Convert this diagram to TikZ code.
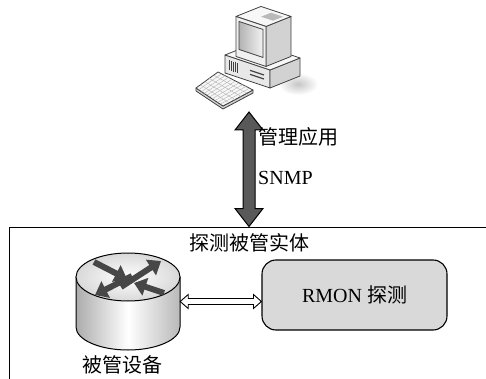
\documentclass[tikz,border=0pt]{standalone}
\usepackage{fontspec}
\setmainfont{Liberation Serif}
\newfontfamily\cjk{Noto Sans CJK SC}
\usetikzlibrary{arrows.meta, positioning, calc}

% double headed block arrow from #2 to #3:
% #4 half shaft width, #5 half head width, #6 head length
\newcommand{\fatArrow}[6][]{
  \draw[#1] (#2)
    -- ($(#2)!#6!(#3)!#5!90:(#3)$)
    -- ($(#2)!#6!(#3)!#4!90:(#3)$)
    -- ($(#3)!#6!(#2)!#4!-90:(#2)$)
    -- ($(#3)!#6!(#2)!#5!-90:(#2)$)
    -- (#3)
    -- ($(#3)!#6!(#2)!#5!90:(#2)$)
    -- ($(#3)!#6!(#2)!#4!90:(#2)$)
    -- ($(#2)!#6!(#3)!#4!-90:(#3)$)
    -- ($(#2)!#6!(#3)!#5!-90:(#3)$)
    -- cycle;
}

\tikzset{
  every node/.style = {
    font=\fontsize{20}{24}\selectfont,
  },
  entityBox/.style = {
    draw,
    line width=1.3pt,
    anchor=north west,
    minimum width=520pt,
    minimum height=180pt,
  },
  probe/.style = {
    draw,
    line width=1.1pt,
    rounded corners=14pt,
    fill=gray!30,
    minimum width=185pt,
    minimum height=70pt,
  },
  txt/.style = {
    inner sep=0pt,
  },
  bigArrow/.style = {
    draw,
    line width=1pt,
    fill=black!65,
    line join=miter,
  },
  linkArrow/.style = {
    draw,
    line width=0.9pt,
    fill=white,
  },
  routerArrow/.style = {
    line width=6pt,
    draw=black!72,
    -{Triangle[length=12pt, width=18pt]},
  },
  pcEdge/.style = {
    draw=black!75,
    line width=0.8pt,
    line join=round,
  },
}

\begin{document}
\begin{tikzpicture}[x=1pt, y=-1pt]
\useasboundingbox (0,0) rectangle (486,379);

% managed entity frame
\node (ent) [entityBox] at (8.5,226.5) {};

% workstation
\shade[inner color=gray!45, outer color=white] (298,84) ellipse[x radius=20, y radius=11];
\begin{scope}[shift={(225,55)}, x={(1pt,-0.333pt)}, y={(0pt,1pt)}, z={(1pt,0.4pt)}, pcEdge]
  % system unit
  \filldraw[fill=gray!18] (0,0,0) -- (45,0,0) -- (45,-18,0) -- (0,-18,0) -- cycle;
  \filldraw[fill=gray!35] (45,0,0) -- (45,0,30) -- (45,-18,30) -- (45,-18,0) -- cycle;
  \filldraw[fill=gray!6] (0,0,0) -- (45,0,0) -- (45,0,30) -- (0,0,30) -- cycle;
  \foreach \u in {4,6,...,12}
    \draw[line width=0.5pt] (\u,-4,0) -- (\u,-14,0);
  \foreach \h in {-7,-11}
    \draw[line width=1.2pt] (25,\h,0) -- (39,\h,0);
  % monitor
  \filldraw[fill=gray!35] (38,0,3) -- (38,0,28) -- (38,40,28) -- (38,40,3) -- cycle;
  \filldraw[fill=gray!6] (8,40,3) -- (38,40,3) -- (38,40,28) -- (8,40,28) -- cycle;
  \filldraw[fill=gray!12] (8,0,3) -- (38,0,3) -- (38,40,3) -- (8,40,3) -- cycle;
  \shade[left color=gray!60, right color=gray!10, draw=black!75]
    (11,8,3) -- (35,8,3) -- (35,36,3) -- (11,36,3) -- cycle;
  \fill[gray!55] (22,40,14) -- (34,40,14) -- (34,40,24) -- (22,40,24) -- cycle;
\end{scope}

% keyboard
\coordinate (kbL) at (196,88);
\coordinate (kbT) at (218,72);
\coordinate (kbR) at (253,90);
\coordinate (kbB) at (223,106);
\filldraw[pcEdge, fill=gray!35] (kbL) -- (kbB) -- (kbR) -- ++(0,3)
  -- ($(kbB)+(0,3)$) -- ($(kbL)+(0,3)$) -- cycle;
\filldraw[pcEdge, fill=gray!6] (kbL) -- (kbT) -- (kbR) -- (kbB) -- cycle;
\foreach \i in {1,...,4}
  \draw[gray!60, line width=0.4pt] ($(kbL)!\i/5!(kbT)$) -- ($(kbB)!\i/5!(kbR)$);
\foreach \j in {1,...,9}
  \draw[gray!60, line width=0.4pt] ($(kbL)!\j/10!(kbB)$) -- ($(kbT)!\j/10!(kbR)$);

\coordinate (pc) at (249,112);
\coordinate (entTop) at (pc |- ent.north);
\fatArrow[bigArrow]{pc}{entTop}{6pt}{14pt}{18pt}

\node (app) [txt, anchor=base west] at (258,145) {\cjk 管理应用};
\node (snmp) [txt, anchor=base west] at (258,185) {SNMP};
\node (entName) [txt, anchor=base] at (249,250) {\cjk 探测被管实体};

% router
\node (router) [minimum width=104pt, minimum height=97pt, inner sep=0pt] at (128,301.5) {};
\shade[left color=gray!65, right color=gray!55, middle color=white, draw=black, line width=1pt]
  (76,277) -- (76,327) arc[start angle=180, end angle=0, x radius=52, y radius=23]
  -- (180,277) -- cycle;
\shade[inner color=white, outer color=gray!30, draw=black, line width=1pt]
  (128,277) ellipse[x radius=52, y radius=24];
\draw[routerArrow] (94,262) -- (127,279);
\draw[routerArrow] (121,287) -- (161,261);
\draw[routerArrow] (132,276) -- (95,295);
\draw[routerArrow] (164,293) -- (134,283);
\node (device) [txt, anchor=base] at (122,372) {\cjk 被管设备};

\node (rmon) [probe] at (354.5,295) {RMON {\cjk 探测}};

\coordinate (linkL) at (router.east);
\coordinate (linkR) at (router.east -| rmon.west);
\fatArrow[linkArrow]{linkL}{linkR}{3pt}{7pt}{8pt}

\end{tikzpicture}
\end{document}
